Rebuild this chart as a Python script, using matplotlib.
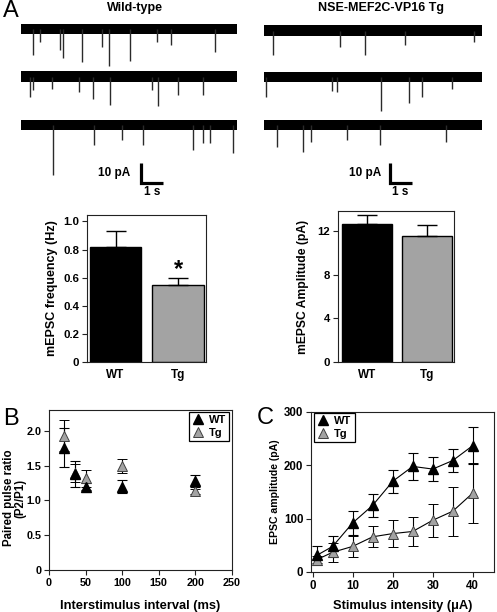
import matplotlib
matplotlib.use("Agg")
import matplotlib.pyplot as plt
from matplotlib.lines import Line2D

plt.rcParams['font.family'] = ['Liberation Sans', 'DejaVu Sans']
plt.rcParams['font.weight'] = 'bold'
plt.rcParams['axes.labelweight'] = 'bold'

# ---------------- data ----------------
# mEPSC traces: event times (s) and peak amplitudes (pA, inward = negative)
wt_trace1_t = [0.54, 0.88, 1.81, 1.96, 2.81, 3.73, 4.09, 5.05, 6.28, 6.94, 8.98]
wt_trace1_a = [-13, -6.3, -10.5, -14.7, -16.3, -8.8, -18.5, -15.8, -6.3, -8, -11.3]
wt_trace2_t = [0.42, 0.57, 1.42, 2.70, 3.32, 4.12, 6.05, 6.34, 7.28, 8.41]
wt_trace2_a = [-10.4, -6.8, -6, -7.6, -11.4, -14.3, -6.8, -14.8, -9.3, -9.3]
wt_trace3_t = [1.50, 3.38, 4.66, 5.66, 7.98, 8.44, 8.75, 9.83]
wt_trace3_a = [-25, -10, -7.5, -10, -12.5, -9.2, -9.2, -14.2]
tg_trace1_t = [0.43, 3.49, 4.63, 6.47, 9.63]
tg_trace1_a = [-12.3, -8.1, -12.3, -7.3, -5.6]
tg_trace2_t = [0.09, 3.10, 3.36, 5.35, 6.67, 7.23, 8.61]
tg_trace2_a = [-10, -6.8, -7.3, -17, -12.8, -9.8, -6.2]
tg_trace3_t = [0.58, 1.77, 2.14, 3.79, 5.32, 8.33]
tg_trace3_a = [-10.8, -13.3, -8.3, -7.5, -10, -8.3]

groups = ["WT", "Tg"]
freq_mean = [0.82, 0.545]
freq_sem = [0.115, 0.055]
amp_mean = [12.65, 11.55]
amp_sem = [0.85, 1.0]

ppr_isi = [20, 35, 50, 100, 200]
ppr_wt = [1.76, 1.38, 1.20, 1.20, 1.28]
ppr_wt_err = [0.28, 0.18, 0.05, 0.10, 0.09]
ppr_tg = [1.93, 1.40, 1.32, 1.50, 1.13]
ppr_tg_err = [0.22, 0.13, 0.12, 0.10, 0.04]

stim = [1, 5, 10, 15, 20, 25, 30, 35, 40]
epsc_wt = [31, 48, 92, 125, 170, 198, 193, 209, 237]
epsc_wt_err = [17, 19, 22, 22, 22, 26, 23, 22, 35]
epsc_tg = [23, 37, 48, 66, 72, 76, 97, 114, 148]
epsc_tg_err = [7, 18, 19, 20, 26, 28, 31, 46, 57]

# ---------------- layout ----------------
W, H = 497, 612
fig = plt.figure(figsize=(W / 100, H / 100), dpi=100)

def ax_px(x0, y0, x1, y1):
    return fig.add_axes([x0 / W, 1 - y1 / H, (x1 - x0) / W, (y1 - y0) / H])

GRAY = '#a3a3a3'
TICK_FS = 8.2

def style_axes(ax, fs=TICK_FS):
    for s in ax.spines.values():
        s.set_linewidth(0.8)
        s.set_color('#222222')
    ax.tick_params(direction='out', length=3.5, width=0.8, labelsize=fs,
                   colors='#222222', labelcolor='black', pad=2)
    for lbl in ax.get_xticklabels() + ax.get_yticklabels():
        lbl.set_fontweight('bold')

# ---------------- traces ----------------
def trace_axes(x0, x1, yc):
    ax = ax_px(x0, yc - 12, x1, yc + 60)
    ax.set_xlim(0, 10)
    ax.set_ylim(-30, 6)
    ax.axis('off')
    return ax

def draw_trace(ax, times, amps):
    ax.fill_between([0, 10], -2.6, 2.6, color='black', lw=0)
    ax.vlines(times, [0] * len(times), amps, color='#2a2a2a', lw=1.0)

wt_traces = [(wt_trace1_t, wt_trace1_a, 29), (wt_trace2_t, wt_trace2_a, 76.5),
             (wt_trace3_t, wt_trace3_a, 125)]
tg_traces = [(tg_trace1_t, tg_trace1_a, 30.5), (tg_trace2_t, tg_trace2_a, 77),
             (tg_trace3_t, tg_trace3_a, 125)]
wt_axes = []
for t, a, yc in wt_traces:
    ax = trace_axes(21, 237, yc)
    draw_trace(ax, t, a)
    wt_axes.append(ax)
tg_axes = []
for t, a, yc in tg_traces:
    ax = trace_axes(264, 482, yc)
    draw_trace(ax, t, a)
    tg_axes.append(ax)

def scale_bar(ax, x, txt_x, s_x):
    ax.plot([x, x, x + 1], [-19, -29, -29], color='black', lw=2.3,
            solid_joinstyle='miter', solid_capstyle='butt', clip_on=False)
    ax.text(txt_x, -24, "10 pA", ha='right', va='center', fontsize=8.5, fontweight='bold')
    ax.text(s_x, -33.5, "1 s", ha='center', va='center', fontsize=8.5, fontweight='bold')

scale_bar(wt_axes[2], 5.56, 5.05, 6.06)
scale_bar(tg_axes[2], 5.78, 5.40, 6.27)

fig.text(134.5 / W, 1 - 8 / H, "Wild-type", ha='center', va='center', fontsize=9, fontweight='bold')
fig.text(381 / W, 1 - 8 / H, "NSE-MEF2C-VP16 Tg", ha='center', va='center', fontsize=9, fontweight='bold')

# ---------------- bar chart: frequency ----------------
ax1 = ax_px(87, 215, 206, 362)
ax1.bar([0, 1], freq_mean, width=0.82, color=['black', GRAY], edgecolor='black', lw=1)
ax1.errorbar([0, 1], freq_mean, yerr=[[0, 0], freq_sem], fmt='none', ecolor='black',
             elinewidth=1, capsize=7.5, capthick=1)
ax1.set_xlim(-0.456, 1.448)
ax1.set_ylim(0, 1.046)
ax1.set_yticks([0, 0.2, 0.4, 0.6, 0.8, 1.0])
ax1.set_yticklabels(["0", "0.2", "0.4", "0.6", "0.8", "1.0"])
ax1.set_xticks([0, 1])
ax1.set_xticklabels(groups)
ax1.text(1, 0.655, "*", ha='center', va='center', fontsize=17, fontweight='bold')
style_axes(ax1)
ax1.tick_params(axis='x', length=0, labelsize=8.5, pad=5)
ax1.set_ylabel("mEPSC frequency (Hz)", fontsize=9, fontweight='bold', labelpad=4)

# ---------------- bar chart: amplitude ----------------
ax2 = ax_px(338, 211, 454, 362)
ax2.bar([0, 1], amp_mean, width=0.83, color=['black', GRAY], edgecolor='black', lw=1)
ax2.errorbar([0, 1], amp_mean, yerr=[[0, 0], amp_sem], fmt='none', ecolor='black',
             elinewidth=1, capsize=7.5, capthick=1)
ax2.set_xlim(-0.483, 1.45)
ax2.set_ylim(0, 13.85)
ax2.set_yticks([0, 4, 8, 12])
ax2.set_xticks([0, 1])
ax2.set_xticklabels(groups)
style_axes(ax2)
ax2.tick_params(axis='x', length=0, labelsize=8.5, pad=5)
ax2.set_ylabel("mEPSC Amplitude (pA)", fontsize=8.7, fontweight='bold', labelpad=6)

# ---------------- B: paired pulse ratio ----------------
axB = ax_px(49, 410, 232, 570)
mk = dict(marker='^', ms=7.5, linestyle='none')
axB.errorbar(ppr_isi, ppr_tg, yerr=ppr_tg_err, color=GRAY, mec='#404040', mew=0.7,
             ecolor='black', elinewidth=0.8, capsize=3.5, capthick=0.8, **mk)
axB.errorbar(ppr_isi, ppr_wt, yerr=ppr_wt_err, color='black', mec='black',
             ecolor='black', elinewidth=0.8, capsize=3.5, capthick=0.8, **mk)
axB.set_xlim(0, 250)
axB.set_ylim(0, 2.30)
axB.set_xticks([0, 50, 100, 150, 200, 250])
axB.set_yticks([0, 0.5, 1.0, 1.5, 2.0])
axB.set_yticklabels(["0", "0.5", "1.0", "1.5", "2.0"])
style_axes(axB, 7.8)
axB.set_xlabel("Interstimulus interval (ms)", fontsize=9.3, fontweight='bold', labelpad=9)
axB.set_ylabel("Paired pulse ratio\n(P2/P1)", fontsize=8.3, fontweight='bold',
               linespacing=0.95)
axB.yaxis.set_label_coords(-0.125, 0.45)
hB = [Line2D([], [], color='black', mec='black', **mk),
      Line2D([], [], color=GRAY, mec='#404040', mew=0.7, **mk)]
legB = axB.legend(hB, ["WT", "Tg"], loc='upper right', bbox_to_anchor=(0.985, 0.99),
                  borderaxespad=0, fancybox=False, edgecolor='black', framealpha=1,
                  prop={'size': 8, 'weight': 'bold'}, handlelength=1.0, handletextpad=0.5,
                  borderpad=0.3, labelspacing=0.25)
legB.get_frame().set_linewidth(0.9)

# ---------------- C: input-output ----------------
axC = ax_px(311, 412, 494, 572)
axC.errorbar(stim, epsc_tg, yerr=epsc_tg_err, color='black', mfc=GRAY, mec='#404040',
             mew=0.7, lw=0.8, ecolor='black', elinewidth=0.8, capsize=3.5, capthick=0.8,
             marker='^', ms=7.5)
axC.errorbar(stim, epsc_wt, yerr=epsc_wt_err, color='black', mfc='black', mec='black',
             lw=0.8, ecolor='black', elinewidth=0.8, capsize=3.5, capthick=0.8,
             marker='^', ms=7.5)
axC.set_xlim(-0.4, 45.3)
axC.set_ylim(0, 300)
axC.set_xticks([0, 10, 20, 30, 40])
axC.set_yticks([0, 100, 200, 300])
style_axes(axC, 8.3)
axC.set_xlabel("Stimulus intensity (\u03bcA)", fontsize=9.3, fontweight='bold', labelpad=6)
axC.set_ylabel("EPSC amplitude (pA)", fontsize=7.6, fontweight='bold', labelpad=3)
hC = [Line2D([], [], color='black', mec='black', **mk),
      Line2D([], [], color=GRAY, mec='#404040', mew=0.7, **mk)]
legC = axC.legend(hC, ["WT", "Tg"], loc='upper left', bbox_to_anchor=(0.016, 0.994),
                  borderaxespad=0, fancybox=False, edgecolor='black', framealpha=1,
                  prop={'size': 8, 'weight': 'bold'}, handlelength=1.0, handletextpad=0.5,
                  borderpad=0.3, labelspacing=0.25)
legC.get_frame().set_linewidth(0.9)

# ---------------- panel letters ----------------
fig.text(3 / W, 1 - 11 / H, "A", fontsize=17, ha='left', va='center', fontweight='normal')
fig.text(3 / W, 1 - 419 / H, "B", fontsize=17, ha='left', va='center', fontweight='normal')
fig.text(257 / W, 1 - 418 / H, "C", fontsize=17, ha='left', va='center', fontweight='normal')

fig.savefig("out.png", dpi=100)
